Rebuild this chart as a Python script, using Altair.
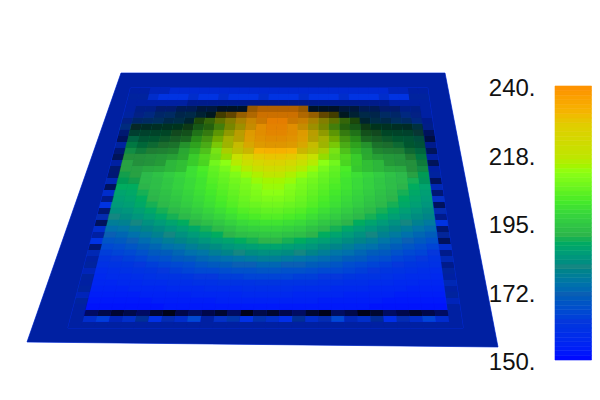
import altair as alt

# surface heights: rows top to bottom, 30 columns each
VALUES = [
[158]*30,
[160]*30,
[158]*30,
[158,160,160,162,162, 164,164,166,166,168, 170,170,238,240,240, 240,240,238,170,170, 168,166,166,164,164, 162,162,160,160,158],
[160,162,164,166,168, 170,172,174,176,226, 232,236,238,240,240, 240,240,238,236,232, 226,176,174,172,170, 168,166,164,162,158],
[162,166,168,170,172, 174,176,205,210,216, 224,230,234,238,240, 240,238,236,230,224, 216,210,205,176,174, 172,170,168,164,158],
[165,180,182,184,186, 188,192,198,204,210, 218,226,232,236,239, 239,236,232,226,218, 210,204,198,192,188, 186,184,182,176,160],
[160,184,186,187,188, 190,194,200,206,212, 220,228,233,236,238, 238,236,233,228,220, 212,206,200,194,190, 188,187,186,180,158],
[158,186,187,188,189, 191,195,201,207,213, 220,227,232,235,236, 236,235,232,227,220, 213,207,201,195,191, 189,188,187,184,160],
[160,188,188,189,190, 192,196,201,206,212, 218,225,230,233,234, 234,233,230,225,218, 212,206,201,196,192, 190,189,188,186,158],
[158,189,189,190,191, 193,196,200,205,210, 216,222,227,231,232, 232,231,227,222,216, 210,205,200,196,193, 191,190,189,187,160],
[160,190,190,191,192, 194,197,200,204,208, 213,218,223,227,228, 228,227,223,218,213, 208,204,200,197,194, 192,191,190,188,158],
[158,190,190,191,193, 195,197,200,203,207, 211,215,219,222,224, 224,222,219,215,211, 207,203,200,197,195, 193,191,190,189,160],
[160,190,190,192,193, 195,197,199,202,205, 208,212,215,218,220, 220,218,215,212,208, 205,202,199,197,195, 193,192,190,189,158],
[158,189,190,191,193, 195,197,199,201,204, 206,209,212,214,216, 216,214,212,209,206, 204,201,199,197,195, 193,191,190,188,160],
[160,188,189,191,192, 194,196,198,200,203, 205,207,209,212,213, 213,212,209,207,205, 203,200,198,196,194, 192,191,189,187,158],
[158,188,188,190,192, 194,196,198,200,202, 204,206,208,210,212, 212,210,208,206,204, 202,200,198,196,194, 192,190,188,186,160],
[160,186,187,189,191, 193,195,197,199,201, 203,205,207,209,211, 211,209,207,205,203, 201,199,197,195,193, 191,189,187,185,158],
[158,185,186,188,190, 192,194,196,198,200, 202,204,206,208,209, 209,208,206,204,202, 200,198,196,194,192, 190,188,186,184,162],
[160,184,185,187,189, 191,193,195,197,199, 201,203,205,206,207, 207,206,205,203,201, 199,197,195,193,191, 189,187,185,183,158],
[158,182,183,185,187, 189,191,193,195,197, 199,201,203,204,205, 205,204,203,201,199, 197,195,193,191,189, 187,185,183,181,162],
[162,180,181,183,185, 187,189,191,193,195, 197,199,201,202,203, 203,202,201,199,197, 195,193,191,189,187, 185,183,181,179,158],
[158,177,178,180,182, 184,186,188,190,192, 194,196,198,199,200, 200,199,198,196,194, 192,190,188,186,184, 182,180,178,176,160],
[160,174,175,177,179, 181,183,185,187,189, 191,193,195,196,197, 197,196,195,193,191, 189,187,185,183,181, 179,177,175,173,158],
[158,171,172,174,176, 178,180,182,184,186, 188,190,192,193,194, 194,193,192,190,188, 186,184,182,180,178, 176,174,172,170,162],
[160,168,169,171,173, 175,177,179,181,183, 185,186,188,189,190, 190,189,188,186,185, 183,181,179,177,175, 173,171,169,167,158],
[158,165,166,168,170, 172,174,175,177,179, 181,183,184,185,186, 186,185,184,183,181, 179,177,175,174,172, 170,168,166,164,160],
[160,163,164,165,167, 169,170,172,174,175, 177,179,180,181,182, 182,181,180,179,177, 175,174,172,170,169, 167,165,164,162,158],
[158,161,162,163,164, 166,167,169,170,172, 173,174,175,176,177, 177,176,175,174,173, 172,170,169,167,166, 164,163,162,160,160],
[160,159,160,161,162, 163,164,165,166,168, 169,170,171,171,172, 172,171,171,170,169, 168,166,165,164,163, 162,161,160,159,158],
[158,157,158,159,160, 161,162,163,164,165, 165,166,167,167,168, 168,167,167,166,165, 165,164,163,162,161, 160,159,158,157,160],
[160,156,157,157,158, 159,160,160,161,162, 162,163,163,164,164, 164,164,163,163,162, 162,161,160,160,159, 158,157,157,156,158],
[158,155,155,156,156, 157,157,158,158,159, 159,160,160,160,161, 161,160,160,160,159, 159,158,158,157,157, 156,156,155,155,160],
[160,154,154,154,155, 155,155,156,156,156, 157,157,157,158,158, 158,158,157,157,157, 156,156,156,155,155, 155,154,154,154,158],
[158,153,153,153,153, 154,154,154,154,155, 155,155,155,156,156, 156,156,155,155,155, 155,154,154,154,154, 153,153,153,153,160],
[160,152,152,152,152, 152,153,153,153,153, 153,154,154,154,154, 154,154,154,154,153, 153,153,153,153,152, 152,152,152,152,158],
[158,151,151,151,151, 151,151,152,152,152, 152,152,152,152,152, 152,152,152,152,152, 152,152,152,151,151, 151,151,151,151,158],
[158,152,153,152,154, 152,153,155,152,154, 152,155,153,152,154, 155,152,153,155,152, 154,153,152,155,153, 152,154,152,153,158],
[158,160,163,158,161, 164,159,162,160,165, 158,162,164,159,163, 161,158,164,160,162, 165,159,161,163,158, 162,160,164,159,158],
[158]*30,
]

# how deeply each cell is shaded, 0 lit to 9 black
SHADE = [
"33221 11111 11111 11111 11111 12233",
"33100 01001 00010 00100 01000 10033",
"33333 34444 44444 44444 44444 43333",
"34455 66778 88433 33488 87766 55443",
"34455 66787 64322 22346 78766 55443",
"45556 67765 43221 12234 56776 65544",
"47777 77665 43211 11234 56677 77764",
"56666 66554 32111 11123 45566 66666",
"64555 55443 22111 11122 34455 55557",
"33444 43332 21111 11112 23334 44554",
"52333 32221 11100 00111 12223 33446",
"62222 22111 10000 00001 11122 22333",
"31222 11110 00000 00000 01111 22236",
"51111 11000 00000 00000 00111 11223",
"51100 00000 00000 00000 00000 00113",
"21100 00000 00000 00000 00000 00016",
"60000 00000 00000 00000 00000 00002",
"10000 00000 00000 00000 00000 00005",
"40000 00000 00000 00000 00000 00001",
"00000 00000 00000 00000 00000 00006",
"50000 00000 00000 00000 00000 00002",
"20000 00000 00000 00000 00000 00004",
"60000 00000 00000 00000 00000 00000",
"10000 00000 00000 00000 00000 00005",
"30000 00000 00000 00000 00000 00003",
"00000 00000 00000 00000 00000 00006",
"50000 00000 00000 00000 00000 00001",
"20000 00000 00000 00000 00000 00004",
"30000 00000 00000 00000 00000 00002",
"30000 00000 00000 00000 00000 00004",
"20000 00000 00000 00000 00000 00003",
"30000 00000 00000 00000 00000 00003",
"30000 00000 00000 00000 00000 00002",
"30000 00000 00000 00000 00000 00003",
"20000 00000 00000 00000 00000 00003",
"30000 00000 00000 00000 00000 00002",
"30000 00000 00000 00000 00000 00003",
"36787 68976 78697 87689 67986 78763",
"31021 30210 31202 10312 02130 21013",
"33333 33333 33333 33333 33333 33333",
]

PLATE_VALUE = 158
PLATE_SHADE = 0.3
TICK_VALUES = [240, 217.5, 195, 172.5, 150]
TICK_LABELS = ["240.", "218.", "195.", "172.", "150."]
BAR_LEVELS = [150 + 1.5 * i for i in range(60)]

COLOR_DOMAIN = [150, 162, 171, 180, 190, 201.5, 211, 216, 226.5, 231, 240]
COLOR_RANGE = ["#000aff", "#0537dc", "#0a5fb4", "#148782", "#2db44b", "#46eb28",
               "#8cff14", "#bee600", "#e1cd00", "#f5b400", "#ff8c00"]
color_scale = alt.Scale(domain=COLOR_DOMAIN, range=COLOR_RANGE)

# view of the plate and of the raised square on the page (plot pixels)
PLATE = [(113, 65), (437, 65), (490, 339), (19, 334)]
ROW_TOP, ROW_STEP = 80, 6


def edge_left(y):
    return 122 - 60 * (y - 82) / 230


def edge_right(y):
    return 420 + 34 * (y - 82) / 230


def corner(col, y):
    left, right = edge_left(y), edge_right(y)
    return [left + (right - left) * col / 30, y]


plate_feature = {
    "type": "Feature",
    "properties": {"value": PLATE_VALUE, "shade": PLATE_SHADE},
    "geometry": {"type": "Polygon",
                 "coordinates": [[list(p) for p in PLATE] + [list(PLATE[0])]]},
}
cell_features = []
for r, (vals, shade) in enumerate(zip(VALUES, SHADE)):
    y0, y1 = ROW_TOP + r * ROW_STEP, ROW_TOP + (r + 1) * ROW_STEP
    for c, (v, s) in enumerate(zip(vals, shade.replace(" ", ""))):
        ring = [corner(c, y0), corner(c + 1, y0), corner(c + 1, y1), corner(c, y1), corner(c, y0)]
        cell_features.append({
            "type": "Feature",
            "properties": {"value": v, "shade": int(s) / 10},
            "geometry": {"type": "Polygon", "coordinates": [ring]},
        })

view = dict(type="identity", scale=1, translate=[0, 0])


def geo_layers(features):
    data = alt.InlineData(
        values={"type": "FeatureCollection", "features": features},
        format=alt.DataFormat(property="features", type="json"),
    )
    colour = alt.Chart(data).mark_geoshape(strokeWidth=0.7, fillOpacity=1).encode(
        color=alt.Color("properties.value:Q", scale=color_scale, legend=None),
        stroke=alt.Stroke("properties.value:Q", scale=color_scale, legend=None),
    ).project(**view)
    shade = alt.Chart(data).transform_filter("datum.properties.shade > 0").mark_geoshape(
        fill="black", strokeWidth=0
    ).encode(
        opacity=alt.Opacity("properties.shade:Q", scale=None),
    ).project(**view)
    return [colour, shade]


bar_y = alt.Scale(domain=[150, 240], range=[352, 78])
bar_data = alt.Data(values=[{"low": v, "high": v + 1.5} for v in BAR_LEVELS])
bar = alt.Chart(bar_data).mark_rect(strokeWidth=0.6).encode(
    x=alt.value(547), x2=alt.value(583.5),
    y=alt.Y("low:Q", scale=bar_y, axis=None),
    y2="high:Q",
    color=alt.Color("low:Q", scale=color_scale, legend=None),
    stroke=alt.Stroke("low:Q", scale=color_scale, legend=None),
)

tick_data = alt.Data(values=[{"v": v, "t": t} for v, t in zip(TICK_VALUES, TICK_LABELS)])
ticks = alt.Chart(tick_data).mark_text(
    align="right", baseline="middle", dy=3, fontSize=24,
    font="Liberation Sans", color="#111111",
).encode(
    x=alt.value(527.5),
    y=alt.Y("v:Q", scale=bar_y, axis=None),
    text="t:N",
)

chart = alt.layer(*geo_layers([plate_feature]), *geo_layers(cell_features), bar, ticks).properties(
    width=584, height=384, padding=0
).configure_view(stroke=None)

chart.save("out.html", embed_options={"renderer": "svg", "actions": False})
